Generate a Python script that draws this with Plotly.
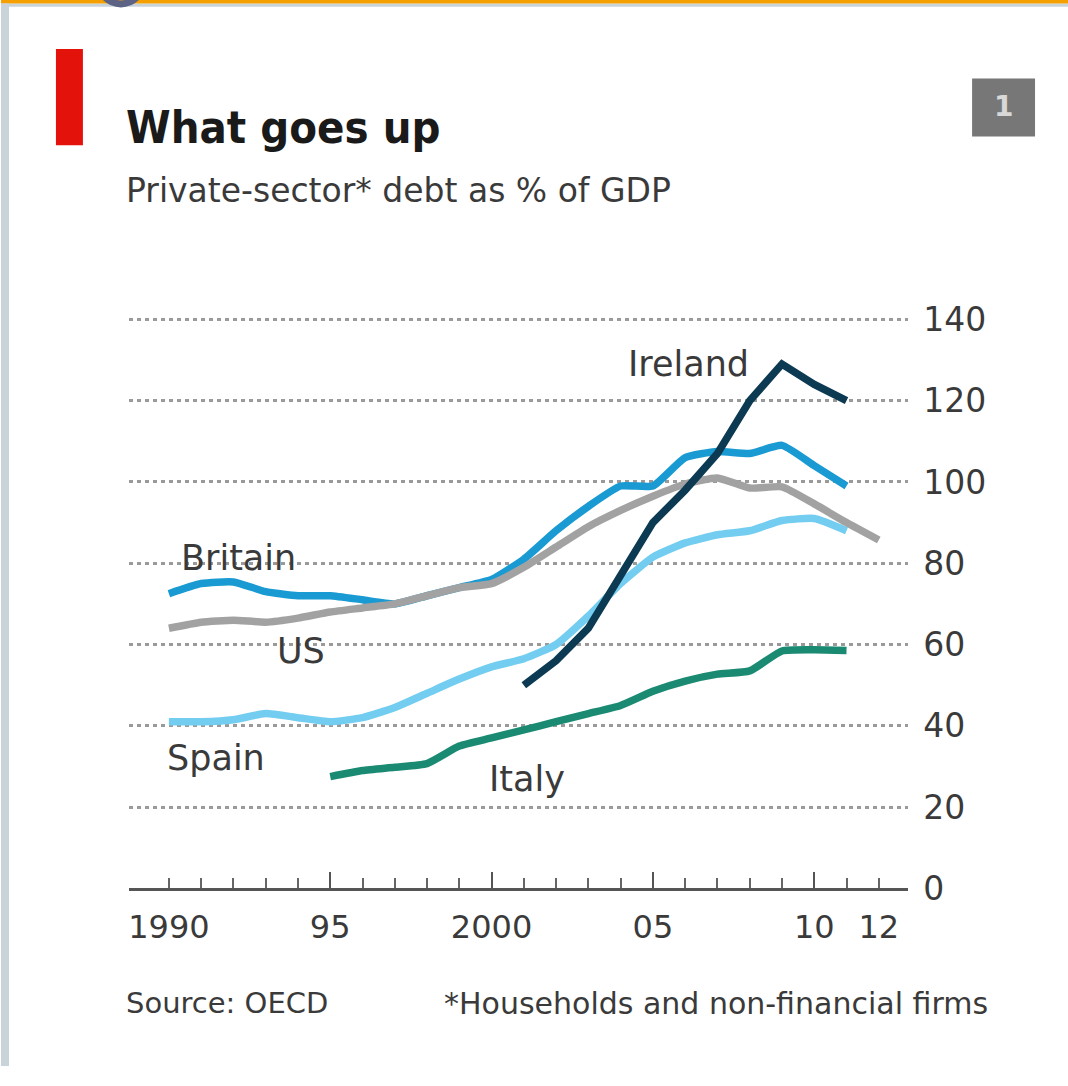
import plotly.graph_objects as go

W, H = 1068, 1086

years_britain = list(range(1990, 2012))
britain = [72.5, 75, 75.4, 73, 72, 72, 71, 70, 72, 74, 76, 81, 88, 94, 99, 99, 106, 107.5, 107, 109, 104, 99]

years_us = list(range(1990, 2013))
us = [64, 65.5, 66, 65.5, 66.5, 68, 69, 70, 72, 74, 75, 79, 84, 89, 93, 96.5, 99.5, 101, 98.5, 98.8, 94.6, 90, 85.7]

years_ireland = list(range(2001, 2012))
ireland = [50, 56, 64, 77, 90, 98, 107, 120, 129, 124, 120]

years_spain = list(range(1990, 2012))
spain = [41, 41, 41.5, 43, 42, 41, 42, 44.5, 48, 51.5, 54.5, 56.5, 60, 67, 75, 81.5, 85, 87, 88, 90.5, 91, 88]

years_italy = list(range(1995, 2012))
italy = [27.5, 29, 29.8, 30.7, 35, 37, 39, 41, 43, 45, 48.5, 51, 52.7, 53.5, 58.4, 58.7, 58.5]

x_tickvals = [1990, 1995, 2000, 2005, 2010, 2012]
x_ticktext = ["1990", "95", "2000", "05", "10", "12"]
y_tickvals = [0, 20, 40, 60, 80, 100, 120, 140]

labels = [
    ("Ireland", 2006.1, 129.0),
    ("Britain", 1992.15, 81.2),
    ("US", 1994.1, 58.3),
    ("Spain", 1991.45, 32.0),
    ("Italy", 2001.1, 27.0),
]

colors = {
    "Britain": "#1a9ad2",
    "US": "#a2a2a2",
    "Ireland": "#0c3a52",
    "Spain": "#72cdf0",
    "Italy": "#1a8a72",
}

FONT = "DejaVu Sans, sans-serif"
FONT_TITLE = "DejaVu Sans Condensed, DejaVu Sans, sans-serif"

def px(x):
    return x / W

def py(y):
    return 1 - y / H

fig = go.Figure()

series = [
    ("Spain", years_spain, spain, "spline"),
    ("Italy", years_italy, italy, "spline"),
    ("Britain", years_britain, britain, "spline"),
    ("US", years_us, us, "spline"),
    ("Ireland", years_ireland, ireland, "linear"),
]
for name, xs, ys, shp in series:
    line = dict(color=colors[name], width=7.5, shape=shp)
    if shp == "spline":
        line["smoothing"] = 0.5
    fig.add_trace(go.Scatter(x=xs, y=ys, mode="lines", name=name, line=line,
                             showlegend=False, hoverinfo="skip"))

# invisible trace hosting the tick-mark axis
fig.add_trace(go.Scatter(x=[years_us[0]], y=[0], mode="markers", xaxis="x2",
                         marker=dict(opacity=0), showlegend=False, hoverinfo="skip"))

xr = [1988.76, 2012.91]
xdom = [px(128), px(908)]
fig.update_layout(
    width=W, height=H,
    margin=dict(l=0, r=0, t=0, b=0),
    paper_bgcolor="white", plot_bgcolor="white",
    font=dict(family=FONT, color="#3a3a3a"),
    xaxis=dict(domain=xdom, range=xr, tickvals=x_tickvals, ticktext=x_ticktext,
               ticks="", showgrid=False, zeroline=False,
               showline=True, linecolor="#555555", linewidth=3,
               tickfont=dict(size=32, color="#3a3a3a"), ticklabelstandoff=8),
    xaxis2=dict(domain=xdom, range=xr, overlaying="x", anchor="y", side="bottom",
                showticklabels=False, showgrid=False, zeroline=False, showline=False,
                ticks="inside", tickvals=[1995, 2000, 2005, 2010], ticklen=16,
                tickwidth=2, tickcolor="#555555",
                minor=dict(tickvals=years_us, ticklen=10, tickwidth=2,
                           tickcolor="#666666", ticks="inside")),
    yaxis=dict(domain=[py(905), py(304.7)], range=[0, 145], side="right",
               tickvals=y_tickvals, ticks="", showgrid=True, gridcolor="#9a9a9a",
               gridwidth=3, griddash="4px,4px", zeroline=False, showline=False,
               tickfont=dict(size=33, color="#3a3a3a"), ticklabelstandoff=14),
)

shapes = [
    dict(type="rect", xref="paper", yref="paper", x0=0, x1=1, y0=py(7), y1=py(3.5),
         fillcolor="#c8d3da", line=dict(width=0)),
    dict(type="rect", xref="paper", yref="paper", x0=0, x1=1, y0=py(3.5), y1=1,
         fillcolor="#f5a000", line=dict(width=0)),
    dict(type="rect", xref="paper", yref="paper", x0=0, x1=px(8), y0=0, y1=py(3.5),
         fillcolor="#c8d3da", line=dict(width=0)),
    dict(type="circle", xref="paper", yref="paper", x0=px(98), x1=px(142),
         y0=py(4), y1=py(-40), line=dict(color="#5d6385", width=7)),
    dict(type="rect", xref="paper", yref="paper", x0=px(55), x1=px(82),
         y0=py(148), y1=py(50), fillcolor="#e3120b", line=dict(width=0)),
    dict(type="rect", xref="paper", yref="paper", x0=px(972), x1=px(1035),
         y0=py(139), y1=py(80), fillcolor="#777777", line=dict(width=0)),
]
fig.update_layout(shapes=shapes)

ann = [
    dict(text="<b>What goes up</b>", x=px(123), y=py(130), xref="paper", yref="paper",
         xanchor="left", yanchor="middle", showarrow=False,
         font=dict(size=45, color="#1a1a1a", family=FONT_TITLE)),
    dict(text="Private-sector* debt as % of GDP", x=px(123), y=py(194), xref="paper",
         yref="paper", xanchor="left", yanchor="middle", showarrow=False,
         font=dict(size=33, color="#3a3a3a", family=FONT)),
    dict(text="<b>1</b>", x=px(1003.5), y=py(109), xref="paper", yref="paper",
         xanchor="center", yanchor="middle", showarrow=False,
         font=dict(size=28, color="#d8d8d8", family=FONT)),
    dict(text="Source: OECD", x=px(123), y=py(1022), xref="paper", yref="paper",
         xanchor="left", yanchor="middle", showarrow=False,
         font=dict(size=29, color="#3a3a3a", family=FONT)),
    dict(text="*Households and non-financial firms", x=px(990), y=py(1022), xref="paper",
         yref="paper", xanchor="right", yanchor="middle", showarrow=False,
         font=dict(size=30, color="#3a3a3a", family=FONT)),
]
for name, lx, ly in labels:
    ann.append(dict(text=name, x=lx, y=ly, xref="x", yref="y", xanchor="center",
                    yanchor="middle", showarrow=False,
                    font=dict(size=35, color="#3a3a3a", family=FONT)))
fig.update_layout(annotations=ann)

fig.write_html("out.html")
